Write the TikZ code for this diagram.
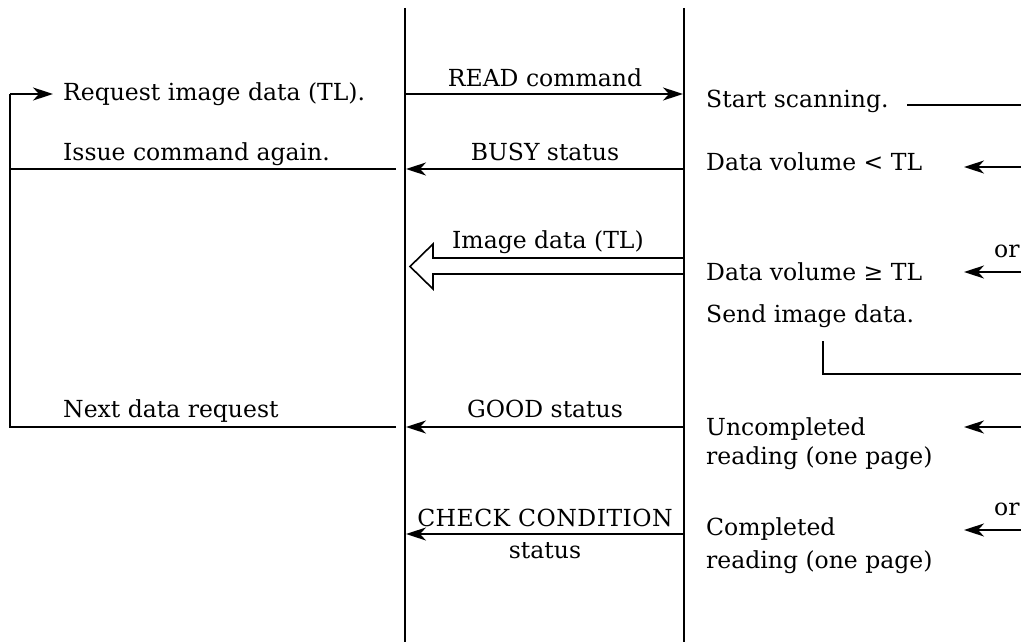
\documentclass[tikz,border=0pt]{standalone}
\usepackage{fontspec}
\setmainfont{DejaVu Serif}
\usetikzlibrary{arrows.meta}
\begin{document}
\begin{tikzpicture}[x=1pt,y=-1pt,
  ln/.style={line width=2pt},
  arr/.style={ln,-{Stealth[length=20pt,width=13pt,inset=6pt]}},
  txt/.style={inner sep=0pt,anchor=base west,font=\fontsize{23.5}{28}\selectfont},
  lbl/.style={inner sep=0pt,anchor=base,font=\fontsize{23.5}{28}\selectfont}]
\useasboundingbox (0,0) rectangle (1021,642);
% lifelines
\coordinate (hTop) at (405,8); \coordinate (hBot) at (405,642);
\coordinate (sTop) at (684,8); \coordinate (sBot) at (684,642);
\draw[ln] (hTop) -- (hBot);
\draw[ln] (sTop) -- (sBot);
% left texts
\node[txt] (req) at (63,100) {Request image data (TL).};
\node[txt] (iss) at (63,160) {Issue command again.};
\node[txt] (nxt) at (63,417) {Next data request};
% left loop
\coordinate (loopA) at (10,94);
\coordinate (loopB) at (10,169);
\coordinate (loopC) at (10,427);
\coordinate (loopAe) at (53,94);
\coordinate (loopBe) at (396,169);
\coordinate (loopCe) at (396,427);
\draw[ln] (loopBe) -- (loopB);
\draw[ln] (loopCe) -- (loopC) -- (loopB) -- (loopA);
\draw[arr] (loopA) -- (loopAe);
% messages
\node[lbl] (readl) at (545,87) {READ command};
\coordinate (readA) at (405,94); \coordinate (readB) at (683,94);
\draw[arr] (readA) -- (readB);
\node[lbl] (busyl) at (545,160) {BUSY status};
\coordinate (busyA) at (684,169); \coordinate (busyB) at (406,169);
\draw[arr] (busyA) -- (busyB);
\node[lbl] (imgl) at (548,248) {Image data (TL)};
\draw[line width=1.6pt,line join=miter] (684,258) -- (433,258) -- (433,244) -- (410,266.5) -- (433,289) -- (433,274) -- (684,274);
\node[lbl] (goodl) at (545,417) {GOOD status};
\coordinate (goodA) at (684,427); \coordinate (goodB) at (406,427);
\draw[arr] (goodA) -- (goodB);
\node[lbl,font=\fontsize{23.5}{28}\selectfont\addfontfeature{LetterSpace=2}] (chkl) at (545,526) {CHECK CONDITION};
\node[lbl] (chkl2) at (545,558) {status};
\coordinate (chkA) at (684,534); \coordinate (chkB) at (406,534);
\draw[arr] (chkA) -- (chkB);
% right texts
\node[txt] (start) at (706,107) {Start scanning.};
\node[txt] (dlt) at (706,170) {Data volume < TL};
\node[txt] (dge) at (706,280) {Data volume ≥ TL};
\node[txt] (send) at (706,322) {Send image data.};
\node[txt] (unc) at (706,435) {Uncompleted};
\node[txt] (unc2) at (706,464) {reading (one page)};
\node[txt] (cmp) at (706,535) {Completed};
\node[txt] (cmp2) at (706,568) {reading (one page)};
\node[txt] (or1) at (994,257) {or};
\node[txt] (or2) at (994,515) {or};
% right connectors
\coordinate (stE) at (1021,105); \coordinate (stS) at (907,105);
\draw[ln] (stS) -- (stE);
\coordinate (ltE) at (1021,167); \coordinate (ltS) at (964,167);
\draw[arr] (ltE) -- (ltS);
\coordinate (geE) at (1021,272); \coordinate (geS) at (964,272);
\draw[arr] (geE) -- (geS);
\coordinate (brA) at (823,341); \coordinate (brB) at (823,374); \coordinate (brC) at (1021,374);
\draw[ln] (brA) -- (brB) -- (brC);
\coordinate (ucE) at (1021,427); \coordinate (ucS) at (964,427);
\draw[arr] (ucE) -- (ucS);
\coordinate (cpE) at (1021,530); \coordinate (cpS) at (964,530);
\draw[arr] (cpE) -- (cpS);
\end{tikzpicture}
\end{document}
